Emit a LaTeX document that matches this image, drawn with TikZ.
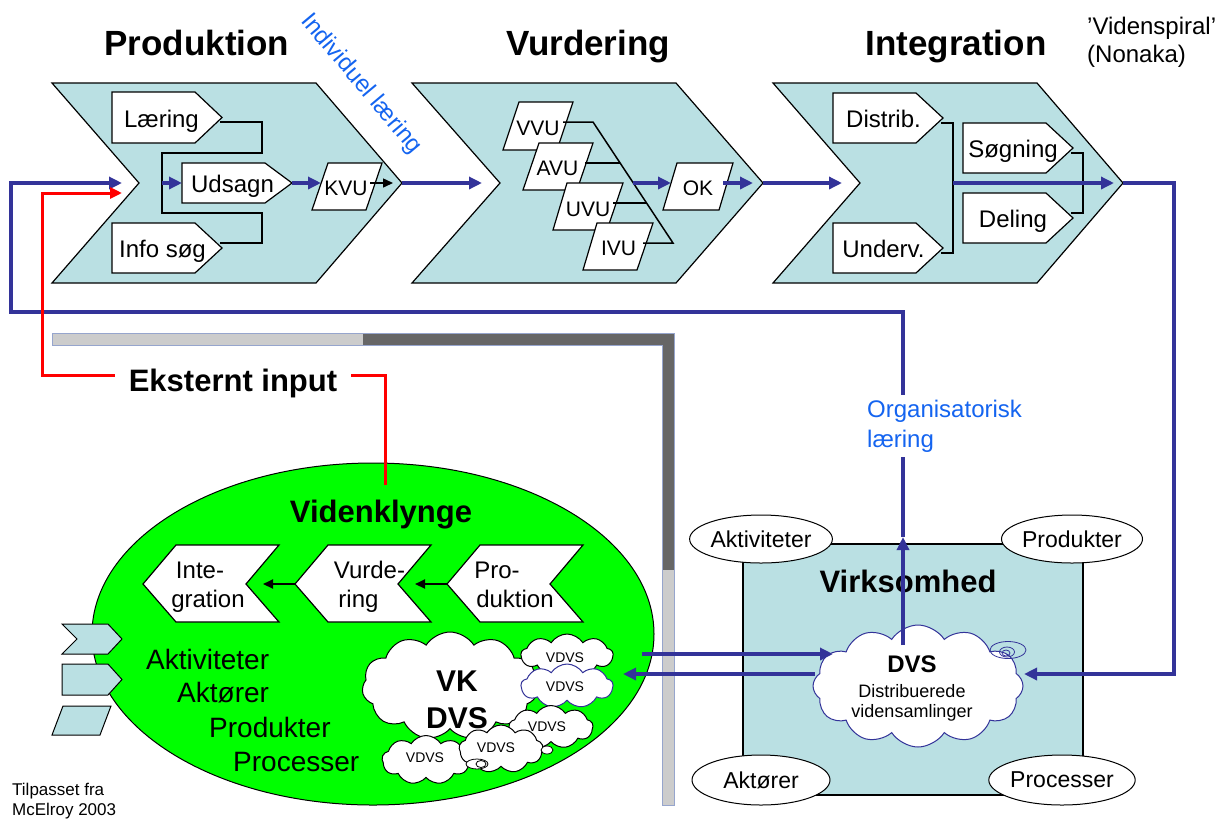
\documentclass[tikz,border=0pt]{standalone}
\usepackage{fontspec}
\setmainfont{Liberation Sans}
\usetikzlibrary{arrows.meta,shapes.geometric,shapes.symbols}

\definecolor{stagefill}{RGB}{186,224,227}
\definecolor{flowblue}{RGB}{51,51,153}
\definecolor{noteblue}{RGB}{20,100,240}
\definecolor{clustergreen}{RGB}{0,255,0}
\definecolor{barlight}{RGB}{204,204,204}
\definecolor{bardark}{RGB}{102,102,102}
\definecolor{baredge}{RGB}{150,165,205}

\tikzset{
  shape line/.style={draw=black, line width=1.2pt, line join=miter},
  stage/.style={shape line, fill=stagefill},
  itembox/.style={shape line, fill=white},
  conn/.style={draw=black, line width=1.5pt},
  flow/.style={draw=flowblue, line width=4pt},
  flow head/.style={-{Triangle[length=13pt,width=12pt]}},
  small head/.style={-{Triangle[length=10pt,width=9pt]}},
  input/.style={draw=red, line width=3pt},
  lbl/.style={inner sep=0pt, anchor=base},
  title/.style={lbl, font=\fontsize{35}{42}\selectfont\bfseries},
  heading/.style={lbl, font=\fontsize{31}{37}\selectfont\bfseries},
  item/.style={lbl, font=\fontsize{24}{29}\selectfont},
  code/.style={lbl, font=\fontsize{21}{25}\selectfont},
  listing/.style={lbl, anchor=base west, font=\fontsize{28}{34}\selectfont},
  puff/.style={cloud, cloud puffs=11, cloud puff arc=115, cloud ignores aspect,
    draw=black, line width=1pt, fill=white, inner sep=0pt},
  tag/.style={ellipse, draw=black, line width=1pt, fill=white, inner sep=0pt,
    minimum width=138pt, font=\fontsize{23}{28}\selectfont},
}

\begin{document}
\begin{tikzpicture}[x=1pt,y=-1pt]
\useasboundingbox (0,0) rectangle (1228,820);

% ---------------- stage titles ----------------
\node[title] (t-prod) at (197,55) {Produktion};
\node[title] (t-vurd) at (588,55) {Vurdering};
\node[title] (t-integ) at (956,55) {Integration};
\node[lbl, anchor=base west, font=\fontsize{24}{29}\selectfont] (spiral) at (1087,34) {’Videnspiral’};
\node[lbl, anchor=base west, font=\fontsize{24}{29}\selectfont] (nonaka) at (1087,62) {(Nonaka)};

% ---------------- stage chevrons ----------------
\draw[stage] (52,83) -- (316,83) -- (402,183) -- (316,283) -- (52,283) -- (139,183) -- cycle;
\draw[stage] (412,83) -- (676,83) -- (763,183) -- (676,283) -- (412,283) -- (500,183) -- cycle;
\draw[stage] (773,83) -- (1037,83) -- (1123,183) -- (1037,283) -- (773,283) -- (860,183) -- cycle;
\coordinate (prod-in) at (122,183);
\coordinate (prod-tip) at (402,183);
\coordinate (vurd-in) at (482,183);
\coordinate (vurd-tip) at (763,183);
\coordinate (integ-in) at (842,183);
\coordinate (integ-tip) at (1123,183);

% Produktion: items
\draw[itembox] (112,92) -- (195,92) -- (222,117.5) -- (195,143) -- (112,143) -- cycle;
\node[item] (laering) at (161.5,127) {Læring};
\draw[itembox] (182,163) -- (265,163) -- (292,183) -- (265,203) -- (182,203) -- cycle;
\node[item] (udsagn) at (232.5,192) {Udsagn};
\draw[itembox] (112,223) -- (195,223) -- (222,248) -- (195,273) -- (112,273) -- cycle;
\node[item] (infosog) at (162.5,257) {Info søg};
\draw[itembox] (328,163) -- (382,163) -- (366,210) -- (312,210) -- cycle;
\node[code] (kvu) at (346,195) {KVU};
\coordinate (laering-out) at (220,122);
\coordinate (infosog-out) at (220,243);
\coordinate (join) at (162,183);
\coordinate (udsagn-in) at (182,183);
\coordinate (udsagn-out) at (292,183);
\coordinate (kvu-in) at (321,183);
\coordinate (kvu-out) at (370,183);
\coordinate (kvu-end) at (393,183);
\draw[conn] (laering-out) -| (262,153) -| (162,213) -| (262,243) -- (infosog-out);
\draw[flow, flow head] (join) -- (udsagn-in);
\draw[flow, flow head] (udsagn-out) -- (kvu-in);
\draw[conn, small head] (kvu-out) -- (kvu-end);

% Vurdering: items
\draw[itembox] (519,102) -- (573,102) -- (557,150) -- (503,150) -- cycle;
\node[code] (vvu) at (538,135) {VVU};
\draw[itembox] (539,143) -- (593,143) -- (577,190) -- (523,190) -- cycle;
\node[code] (avu) at (557.5,175) {AVU};
\draw[itembox] (567,183) -- (623,183) -- (607,230) -- (553,230) -- cycle;
\node[code] (uvu) at (588,216) {UVU};
\draw[itembox] (597,223) -- (653,223) -- (637,270) -- (583,270) -- cycle;
\node[code] (ivu) at (618.5,255) {IVU};
\draw[itembox] (677,163) -- (733,163) -- (719,210) -- (663,210) -- cycle;
\node[code] (ok) at (698,195) {OK};
\draw[conn] (563,122) -- (593,122) -- (673,243) -- (643,243);
\draw[conn] (585,163) -- (620,163);
\draw[conn] (613,203) -- (646,203);
\coordinate (vote) at (633,183);
\coordinate (ok-in) at (671,183);
\coordinate (ok-out) at (723,183);
\coordinate (ok-end) at (753,183);
\draw[flow, flow head] (vote) -- (ok-in);
\draw[flow, flow head] (ok-out) -- (ok-end);

% Integration: items
\draw[itembox] (833,93) -- (916,93) -- (943,118) -- (916,143) -- (833,143) -- cycle;
\node[item] (distrib) at (883.5,127) {Distrib.};
\draw[itembox] (833,223) -- (916,223) -- (943,248) -- (916,273) -- (833,273) -- cycle;
\node[item] (underv) at (883.5,257) {Underv.};
\draw[itembox] (963,123) -- (1046,123) -- (1073,148) -- (1046,173) -- (963,173) -- cycle;
\node[item] (sogning) at (1013,157) {Søgning};
\draw[itembox] (963,193) -- (1046,193) -- (1073,218) -- (1046,243) -- (963,243) -- cycle;
\node[item] (deling) at (1013,227) {Deling};
\draw[conn] (941,123) -- (953,123) -- (953,253) -- (941,253);
\draw[conn] (1071,153) -- (1083,153) -- (1083,213) -- (1071,213);
\coordinate (merge) at (953,183);
\coordinate (merge-end) at (1114,183);
\draw[flow, flow head] (merge) -- (merge-end);

% flow between stages
\draw[flow, flow head] (prod-tip) -- (vurd-in);
\draw[flow, flow head] (vurd-tip) -- (integ-in);

\node[lbl, rotate=-50, anchor=center, text=noteblue, font=\fontsize{24}{29}\selectfont]
  (indiv) at (361,84) {Individuel læring};

% ---------------- divider ----------------
\fill[barlight] (52,333) rectangle (363,345);
\fill[bardark] (363,333) rectangle (674,345);
\fill[bardark] (662,345) rectangle (674,570);
\fill[barlight] (662,570) rectangle (674,805);
\draw[baredge, line width=0.8pt] (52,333) -- (674,333) -- (674,805) -- (662,805) -- (662,345) -- (52,345) -- cycle;

% ---------------- knowledge cluster ----------------
\node[ellipse, draw=black, line width=1pt, fill=clustergreen, minimum width=562pt,
  minimum height=342pt, inner sep=0pt] (klynge) at (373,634) {};
\node[heading] (klynge-title) at (381,522) {Videnklynge};

\draw[itembox] (143,584) -- (176,545) -- (279,545) -- (246,584) -- (279,622) -- (176,622) -- cycle;
\draw[itembox] (295,584) -- (328,545) -- (431,545) -- (398,584) -- (431,622) -- (328,622) -- cycle;
\draw[itembox] (447,584) -- (480,545) -- (583,545) -- (550,584) -- (583,622) -- (480,622) -- cycle;
\node[item] (k-integ1) at (200,578) {Inte-};
\node[item] (k-integ2) at (208,607) {gration};
\node[item] (k-vurd1) at (369.5,578) {Vurde-};
\node[item] (k-vurd2) at (358.5,607) {ring};
\node[item] (k-prod1) at (497,578) {Pro-};
\node[item] (k-prod2) at (515,607) {duktion};
\coordinate (k-vurd-tip) at (295,584);
\coordinate (k-integ-notch) at (263,584);
\coordinate (k-prod-tip) at (447,584);
\coordinate (k-vurd-notch) at (415,584);
\draw[conn, line width=2pt, small head] (k-vurd-tip) -- (k-integ-notch);
\draw[conn, line width=2pt, small head] (k-prod-tip) -- (k-vurd-notch);

\node[listing] (l-akt) at (146,669) {Aktiviteter};
\node[listing] (l-aktor) at (177,702) {Aktører};
\node[listing] (l-prod) at (209,737) {Produkter};
\node[listing] (l-proc) at (233,771) {Processer};

% legend symbols
\draw[shape line, line width=1pt, fill=stagefill] (62,624) -- (108,624) -- (122,639) -- (108,654) -- (62,654) -- (77,639) -- cycle;
\draw[shape line, line width=1pt, fill=stagefill] (62,664) -- (108,664) -- (122,679.5) -- (108,695) -- (62,695) -- cycle;
\draw[shape line, line width=1pt, fill=stagefill] (63,706) -- (111,706) -- (100,735) -- (52,735) -- cycle;

% distributed knowledge stores of the cluster
\node[puff, minimum width=176pt, minimum height=108pt] (vkdvs) at (450,686) {};
\node[puff, cloud puffs=9, minimum width=92pt, minimum height=42pt] (vdvs1) at (567,655) {};
\node[puff, cloud puffs=9, draw=flowblue, minimum width=92pt, minimum height=44pt] (vdvs2) at (567,686) {};
\node[puff, cloud puffs=9, minimum width=84pt, minimum height=43pt] (vdvs3) at (551,727) {};
\node[puff, cloud puffs=9, minimum width=88pt, minimum height=49pt] (vdvs5) at (426,760) {};
\node[puff, cloud puffs=9, minimum width=84pt, minimum height=48pt] (vdvs4) at (501,749) {};
\draw[line width=0.8pt, fill=white] (477,764) ellipse [x radius=11pt, y radius=5pt];
\draw[line width=0.8pt] (481,764) ellipse [x radius=5pt, y radius=3.5pt];
\draw[line width=0.8pt, fill=white] (547,750) ellipse [x radius=6pt, y radius=4pt];
\node[lbl, font=\fontsize{30}{36}\selectfont\bfseries] (vk1) at (457,691) {VK};
\node[lbl, font=\fontsize{30}{36}\selectfont\bfseries] (vk2) at (457,728) {DVS};
\node[lbl, font=\fontsize{14}{17}\selectfont] (vdvs1-t) at (565,662) {VDVS};
\node[lbl, font=\fontsize{14}{17}\selectfont] (vdvs2-t) at (565,691) {VDVS};
\node[lbl, font=\fontsize{14}{17}\selectfont] (vdvs3-t) at (547,731) {VDVS};
\node[lbl, font=\fontsize{14}{17}\selectfont] (vdvs4-t) at (496,752) {VDVS};
\node[lbl, font=\fontsize{14}{17}\selectfont] (vdvs5-t) at (425,762) {VDVS};

% ---------------- organisation ----------------
\draw[shape line, fill=stagefill] (743,544) rectangle (1083,795);
\node[heading] (virk) at (908,592) {Virksomhed};
\node[puff, cloud puffs=12, draw=flowblue, minimum width=210pt, minimum height=122pt] (dvs) at (918,686) {};
\draw[flowblue, line width=0.8pt] (1008,650) ellipse [x radius=18pt, y radius=8.5pt];
\draw[flowblue, line width=0.8pt] (1007,652) ellipse [x radius=7.5pt, y radius=5pt];
\draw[flowblue, line width=0.8pt] (1006,653) ellipse [x radius=4pt, y radius=3pt];
\node[lbl, font=\fontsize{24}{29}\selectfont\bfseries] (dvs-t) at (912,672) {DVS};
\node[lbl, font=\fontsize{18}{22}\selectfont] (dvs-t2) at (912,697) {Distribuerede};
\node[lbl, font=\fontsize{18}{22}\selectfont] (dvs-t3) at (912,717) {vidensamlinger};

\node[tag, minimum height=48pt] (e-akt) at (761,539) {Aktiviteter};
\node[tag, minimum height=48pt] (e-prod) at (1072,539) {Produkter};
\node[tag, minimum height=50pt] (e-aktor) at (761,780) {Aktører};
\node[tag, minimum height=50pt] (e-proc) at (1062,780) {Processer};

% ---------------- organisational loop ----------------
\coordinate (dvs-top) at (903,645);
\coordinate (box-top) at (903,537);
\coordinate (loop-r) at (903,312);
\coordinate (loop-l) at (11,312);
\coordinate (loop-up) at (11,183);
\draw[flow, flow head] (dvs-top) -- (box-top);
\draw[flow, flow head] (box-top) -- (loop-r) -- (loop-l) -- (loop-up) -- (prod-in);

\coordinate (out-r) at (1174,183);
\coordinate (out-down) at (1174,674);
\coordinate (dvs-east) at (1024,674);
\draw[flow, flow head] (integ-tip) -- (out-r) -- (out-down) -- (dvs-east);

\coordinate (cl-out) at (642,654);
\coordinate (dvs-west) at (833,654);
\coordinate (dvs-out) at (815,674);
\coordinate (cl-in) at (623,674);
\draw[flow, flow head] (cl-out) -- (dvs-west);
\draw[flow, flow head] (dvs-out) -- (cl-in);

% label sits on a white patch that interrupts the loop line
% (the base anchor of a two-line node is the baseline of its last line)
\node[anchor=base west, fill=white, inner xsep=2pt, inner ysep=5pt, align=left,
  text=noteblue, font=\fontsize{24}{29.5}\selectfont] (org) at (865,447) {Organisatorisk\\læring};

% ---------------- external input ----------------
\node[heading, inner xsep=14pt] (ekst) at (233,391) {Eksternt input};
\coordinate (red-in) at (385,485);
\coordinate (red-top) at (385,375);
\coordinate (red-corner) at (42,375);
\coordinate (red-up) at (42,193);
\coordinate (red-end) at (122,193);
\draw[input] (red-in) -- (red-top) -- (ekst.east |- red-top);
\draw[input, -{Triangle[length=12pt,width=11pt]}] (ekst.west |- red-top) -- (red-corner) -- (red-up) -- (red-end);

% ---------------- source ----------------
\node[lbl, anchor=base west, font=\fontsize{17}{20}\selectfont] (src1) at (12,795) {Tilpasset fra};
\node[lbl, anchor=base west, font=\fontsize{17}{20}\selectfont] (src2) at (12,815) {McElroy 2003};
\end{tikzpicture}
\end{document}
